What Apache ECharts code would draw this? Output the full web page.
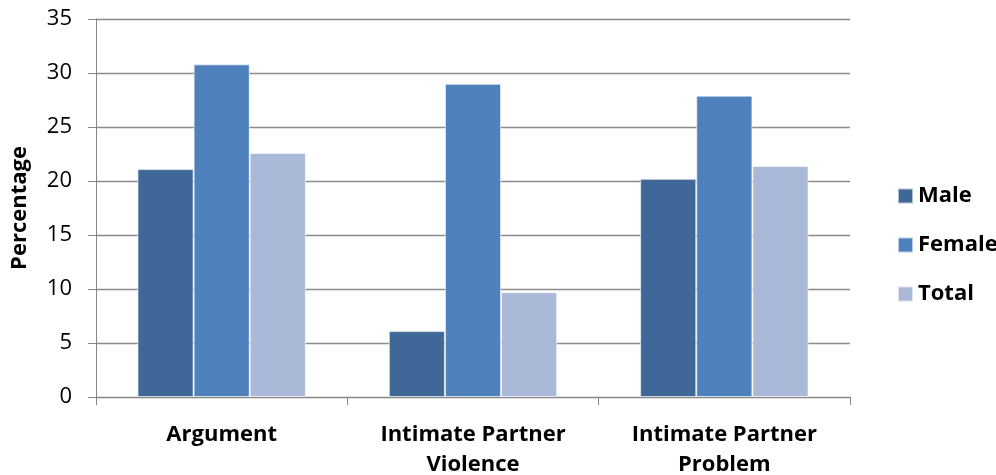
<!DOCTYPE html>
<html>
<head>
<meta charset="utf-8">
<script src="https://cdn.jsdelivr.net/npm/echarts@6/dist/echarts.min.js"></script>
<style>
  html, body { margin: 0; padding: 0; background: #fff; }
  #chart { width: 996px; height: 475px; }
</style>
</head>
<body>
<div id="chart"></div>
<script>
// Percentages by category and sex
const categories = ['Argument', 'Intimate Partner\nViolence', 'Intimate Partner\nProblem'];
const male = [21.1, 6.1, 20.2];
const female = [30.8, 29.0, 27.9];
const total = [22.6, 9.7, 21.4];
const yTicks = { min: 0, max: 35, interval: 5 };

const font = '"Open Sans", "Noto Sans", sans-serif';
const barBorder = { borderColor: 'rgba(255,255,255,0.6)', borderWidth: 1 };

const chart = echarts.init(document.getElementById('chart'));
chart.setOption({
  animation: false,
  grid: {
    left: 96, right: 146, top: 19, bottom: 78,
    containLabel: false, outerBoundsMode: 'none'
  },
  legend: {
    orient: 'vertical',
    left: 892,
    top: 180,
    itemWidth: 15,
    itemHeight: 15,
    itemGap: 27,
    icon: 'rect',
    textStyle: { fontFamily: font, fontSize: 22, fontWeight: 'bold', color: '#000' },
    data: ['Male', 'Female', 'Total']
  },
  xAxis: {
    type: 'category',
    data: categories,
    axisLine: { lineStyle: { color: '#868686', width: 1 } },
    axisTick: { show: true, length: 8, lineStyle: { color: '#868686' } },
    axisLabel: {
      fontFamily: font, fontSize: 22, fontWeight: 'bold', color: '#000',
      margin: 23, lineHeight: 30, interval: 0
    }
  },
  yAxis: {
    type: 'value',
    min: yTicks.min, max: yTicks.max, interval: yTicks.interval,
    name: 'Percentage',
    nameLocation: 'middle',
    nameGap: 65,
    nameRotate: 90,
    nameTextStyle: { fontFamily: font, fontSize: 22, fontWeight: 'bold', color: '#000' },
    axisLine: { show: true, lineStyle: { color: '#868686', width: 1 } },
    axisTick: { show: true, length: 8, lineStyle: { color: '#868686' } },
    axisLabel: { fontFamily: font, fontSize: 22, color: '#000', margin: 24 },
    splitLine: { lineStyle: { color: '#8c8c8c', width: 1.3 } }
  },
  series: [
    { name: 'Male', type: 'bar', data: male, barGap: '0%', barCategoryGap: '33%',
      itemStyle: Object.assign({ color: '#3F6898' }, barBorder) },
    { name: 'Female', type: 'bar', data: female, barGap: '0%', barCategoryGap: '33%',
      itemStyle: Object.assign({ color: '#4F81BD' }, barBorder) },
    { name: 'Total', type: 'bar', data: total, barGap: '0%', barCategoryGap: '33%',
      itemStyle: Object.assign({ color: '#AAB9D8' }, barBorder) }
  ]
});
</script>
</body>
</html>
